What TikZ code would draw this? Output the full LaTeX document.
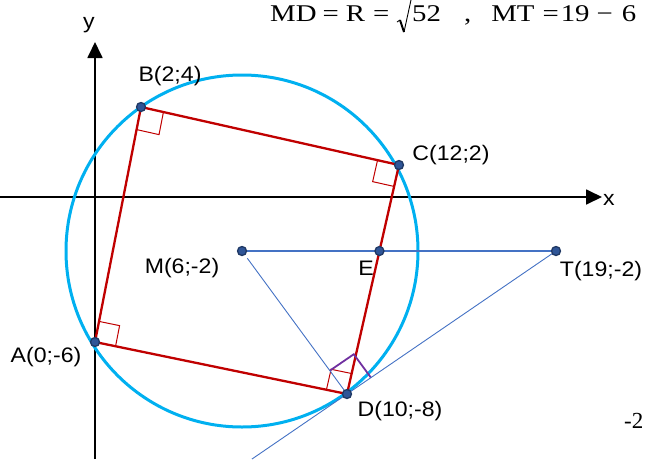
\documentclass[tikz,border=0pt]{standalone}
\usepackage{fontspec}
\setmainfont[FakeStretch=1.1]{Liberation Sans}
\newfontfamily\tnr{Liberation Serif}
\newfontfamily\tnrw[FakeStretch=1.2]{Liberation Serif}
\usetikzlibrary{arrows.meta,calc}
\definecolor{cyanc}{HTML}{00B0F0}
\definecolor{redc}{HTML}{C00000}
\definecolor{bluel}{HTML}{4472C4}
\definecolor{purp}{HTML}{7030A0}
\definecolor{dotf}{HTML}{2F5597}
\definecolor{dotd}{HTML}{1F3864}
\newcommand\ramark[5]{%
  \coordinate (q) at ($(#1)!#4!(#2)$);
  \coordinate (r) at ($(#1)!#4!(#3)$);
  \draw[#5] (q) -- ($(q)+(r)-(#1)$) -- (r);}
\begin{document}
\begin{tikzpicture}[x=1pt,y=-1pt,
  lbl/.style={font=\fontsize{21}{24}\selectfont, inner sep=0pt},
  serif/.style={font=\tnrw\fontsize{24}{28}\selectfont, inner sep=0pt},
  serifn/.style={font=\tnr\fontsize{23}{26}\selectfont, inner sep=0pt},
  ptdot/.style={circle, fill=dotf, draw=dotd, line width=1.3pt, minimum size=9pt, inner sep=0pt},
  axis/.style={line width=1.8pt, -{Triangle[length=16pt,width=15pt]}},
  circ/.style={cyanc, line width=3pt},
  rect/.style={redc, line width=2.3pt, line join=round},
  redmark/.style={redc, line width=1pt},
  purmark/.style={purp, line width=1.8pt},
  thick blue/.style={bluel, line width=1.8pt},
  thin blue/.style={bluel, line width=0.9pt}]
\useasboundingbox (0,0) rectangle (646,459);
% coordinates
\coordinate (A) at (95,342);
\coordinate (B) at (141,107);
\coordinate (C) at (399,165);
\coordinate (D) at (347,394);
\coordinate (M) at (242,251);
\coordinate (T) at (556,251);
\coordinate (E) at (intersection of C--D and M--T);
\coordinate (Tend) at ($(T)!1.455!(D)$);
\coordinate (xa0) at (0,197);
\coordinate (xa1) at (602,197);
\coordinate (ya0) at (95,459);
\coordinate (ya1) at (95,42);
% axes
\draw[axis] (xa0) -- (xa1);
\draw[axis] (ya0) -- (ya1);
\node[lbl] (xl) at (609,200) {x};
\node[lbl] (yl) at (89,25) {y};
% circle
\draw[circ] (M) circle (176);
% rectangle
\draw[rect] (A) -- (B) -- (C) -- (D) -- cycle;
\ramark{A}{B}{D}{21pt}{redmark}
\ramark{B}{C}{A}{23pt}{redmark}
\ramark{C}{D}{B}{22pt}{redmark}
\ramark{D}{A}{C}{21pt}{redmark}
\ramark{D}{M}{T}{29pt}{purmark}
% blue lines
\draw[thick blue] (M) -- (T);
\draw[thin blue, shorten <=9pt] (M) -- (D);
\draw[thin blue] (T) -- (Tend);
% dots
\node[ptdot] (pA) at (A) {};
\node[ptdot] (pB) at (B) {};
\node[ptdot] (pC) at (C) {};
\node[ptdot] (pD) at (D) {};
\node[ptdot] (pM) at (M) {};
\node[ptdot] (pE) at (E) {};
\node[ptdot] (pT) at (T) {};
% labels
\node[lbl] (lA) at (46,357) {A(0;-6)};
\node[lbl] (lB) at (170,76) {B(2;4)};
\node[lbl] (lC) at (451,155) {C(12;2)};
\node[lbl] (lD) at (400,411) {D(10;-8)};
\node[lbl] (lM) at (182,268) {M(6;-2)};
\node[lbl] (lE) at (366,268) {E};
\node[lbl] (lT) at (601,271) {T(19;-2)};
% formula
\node[serif, anchor=base west] (f1) at (270,21) {MD\hspace{6pt}=\hspace{7pt}R\hspace{8pt}=};
\coordinate (r0) at (397,22);
\coordinate (r1) at (400,20);
\coordinate (r2) at (404,32);
\coordinate (r3) at (411,0);
\draw[line width=0.9pt, line join=miter] (r0) -- (r1);
\draw[line width=2pt] (r1) -- (r2);
\draw[line width=0.9pt] (r2) -- (r3);
\node[serif, anchor=base west] (f2) at (412,21) {52};
\node[serif, anchor=base west] (f3) at (464,21) {,\hspace{20pt}MT\hspace{8pt}=\hspace{2pt}19\hspace{7pt}−\hspace{9pt}6};
\node[serifn, anchor=base west] (m2) at (624,428) {-2};
\end{tikzpicture}
\end{document}
